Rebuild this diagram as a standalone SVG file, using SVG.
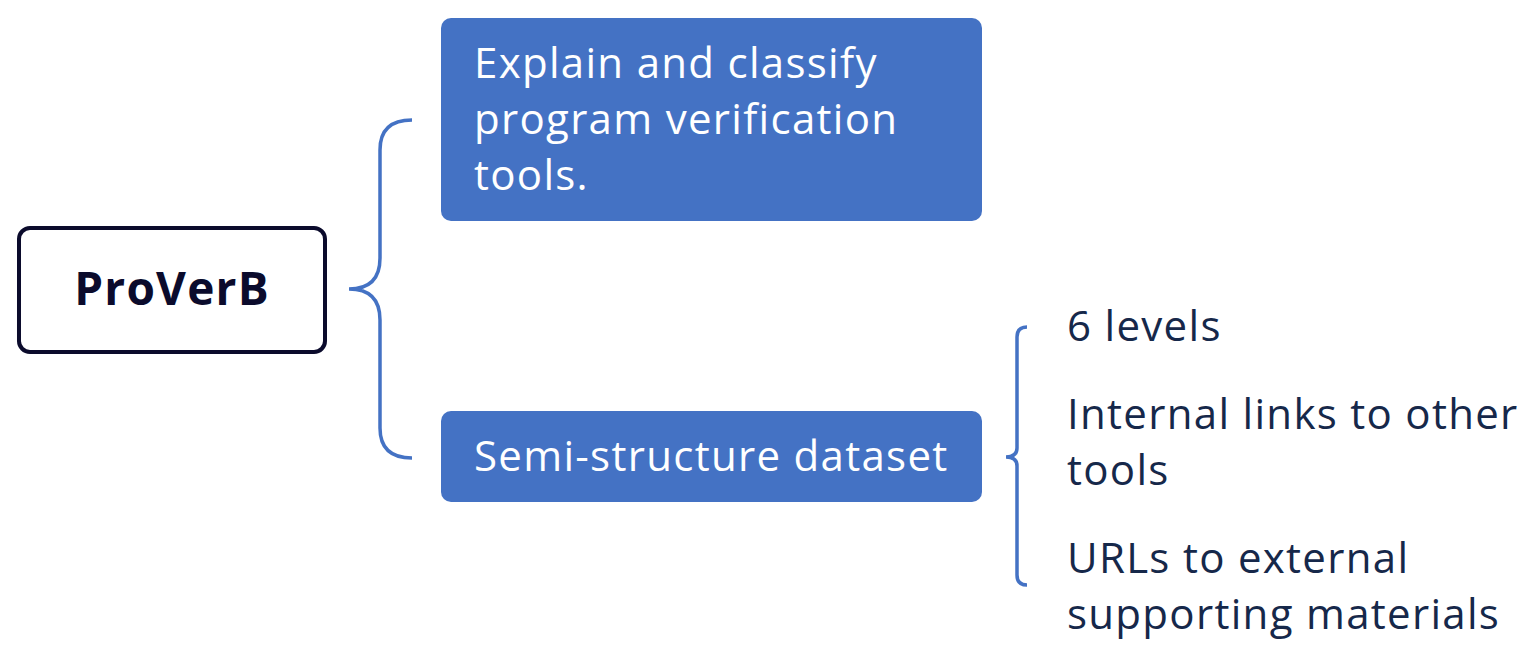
<svg xmlns="http://www.w3.org/2000/svg" width="1520" height="648" viewBox="0 0 1520 648">
<style>
.blue{fill:#4472c4}
.wt{fill:#ffffff;font-family:"Open Sans","Liberation Sans",sans-serif;font-size:42px;letter-spacing:1.3px}
.dk{fill:#16284a;font-family:"Open Sans","Liberation Sans",sans-serif;font-size:42px;letter-spacing:1.3px}
.br{fill:none;stroke:#4472c4;stroke-width:3.5;stroke-linecap:butt}
</style>
<rect width="1520" height="648" fill="#ffffff"/>
<g id="connectors">
<path class="br" d="M412,120 Q380,120 380,150 L380,258 Q380,289 349,289 Q380,289 380,320 L380,428 Q380,458 412,458"/>
<path class="br" d="M1027,327 Q1017,327 1017,337 L1017,448 Q1017,457 1006,457 Q1017,457 1017,466 L1017,575 Q1017,585 1027,585"/>
</g>
<g id="root">
<rect x="19" y="228" width="306" height="124" rx="11" fill="#ffffff" stroke="#0b0b2c" stroke-width="4"/>
<text x="172" y="305" text-anchor="middle" style="font-family:'Open Sans','Liberation Sans',sans-serif;font-weight:bold;font-size:46px;letter-spacing:1.2px;fill:#0b0b2c">ProVerB</text>
</g>
<g id="node-explain">
<rect class="blue" x="441" y="18" width="541" height="203" rx="10"/>
<text class="wt" x="474" y="78">Explain and classify</text>
<text class="wt" x="474" y="134">program verification</text>
<text class="wt" x="474" y="190">tools.</text>
</g>
<g id="node-dataset">
<rect class="blue" x="441" y="411" width="541" height="91" rx="10"/>
<text class="wt" x="474" y="471">Semi-structure dataset</text>
</g>
<g id="leaf-levels"><text class="dk" x="1067" y="341">6 levels</text></g>
<g id="leaf-internal">
<text class="dk" x="1067" y="429">Internal links to other</text>
<text class="dk" x="1067" y="485">tools</text>
</g>
<g id="leaf-urls">
<text class="dk" x="1067" y="573">URLs to external</text>
<text class="dk" x="1067" y="629">supporting materials</text>
</g>
</svg>
